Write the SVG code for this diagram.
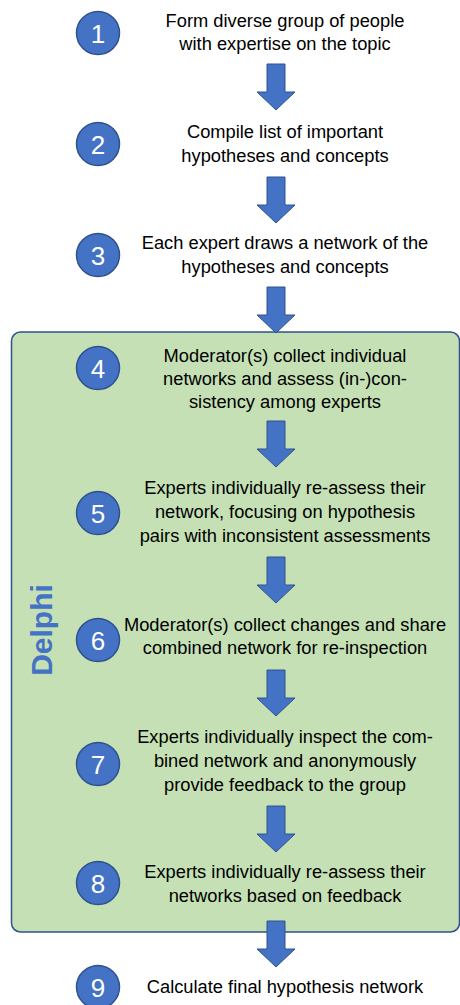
<svg xmlns="http://www.w3.org/2000/svg" width="460" height="1005" viewBox="0 0 460 1005">
<defs>
<style>
.t{font-family:"Liberation Sans",Arial,sans-serif;font-size:18.3px;fill:#000;text-anchor:middle}
.n{font-family:"Liberation Sans",Arial,sans-serif;font-size:26px;fill:#fff;text-anchor:middle}
.c{fill:#4472C4;stroke:#2F528F;stroke-width:1.5}
.a{fill:#4472C4;stroke:#2F528F;stroke-width:1}
</style>
<path id="arr" d="M-9,0 H9 V28 H19 L0,46 L-19,28 H-9 Z"/>
</defs>
<rect width="460" height="1005" fill="#fff"/>
<g id="delphi">
<rect x="11.5" y="332" width="448" height="600" rx="9" fill="#C5E0B4" stroke="#2F528F" stroke-width="1.5"/>
<text transform="translate(52,630) rotate(-90)" font-family="Liberation Sans,Arial,sans-serif" font-weight="bold" font-size="30" fill="#4472C4" text-anchor="middle">Delphi</text>
</g>
<g id="connectors">
<use href="#arr" class="a" x="276" y="64"/>
<use href="#arr" class="a" x="276" y="177"/>
<use href="#arr" class="a" x="276" y="287"/>
<use href="#arr" class="a" x="276" y="421"/>
<use href="#arr" class="a" x="276" y="557"/>
<use href="#arr" class="a" x="276" y="670"/>
<use href="#arr" class="a" x="276" y="806"/>
<use href="#arr" class="a" x="276" y="921"/>
</g>
<g id="n1"><circle class="c" cx="98" cy="33" r="21.5"/><text class="n" x="98" y="42.5">1</text>
<text class="t" x="285" y="27">Form diverse group of people</text><text class="t" x="285" y="50">with expertise on the topic</text></g>
<g id="n2"><circle class="c" cx="98" cy="144" r="21.5"/><text class="n" x="98" y="153.5">2</text>
<text class="t" x="285" y="138">Compile list of important</text><text class="t" x="285" y="162">hypotheses and concepts</text></g>
<g id="n3"><circle class="c" cx="98" cy="255" r="21.5"/><text class="n" x="98" y="264.5">3</text>
<text class="t" x="285" y="249">Each expert draws a network of the</text><text class="t" x="285" y="273">hypotheses and concepts</text></g>
<g id="n4"><circle class="c" cx="98" cy="368" r="21.5"/><text class="n" x="98" y="377.5">4</text>
<text class="t" x="285" y="362">Moderator(s) collect individual</text><text class="t" x="285" y="385">networks and assess (in-)con-</text><text class="t" x="285" y="408">sistency among experts</text></g>
<g id="n5"><circle class="c" cx="98" cy="513" r="21.5"/><text class="n" x="98" y="522.5">5</text>
<text class="t" x="285" y="494">Experts individually re-assess their</text><text class="t" x="285" y="518">network, focusing on hypothesis</text><text class="t" x="285" y="542">pairs with inconsistent assessments</text></g>
<g id="n6"><circle class="c" cx="98" cy="640" r="21.5"/><text class="n" x="98" y="649.5">6</text>
<text class="t" x="285" y="631">Moderator(s) collect changes and share</text><text class="t" x="285" y="654">combined network for re-inspection</text></g>
<g id="n7"><circle class="c" cx="98" cy="764" r="21.5"/><text class="n" x="98" y="773.5">7</text>
<text class="t" x="285" y="743">Experts individually inspect the com-</text><text class="t" x="285" y="767">bined network and anonymously</text><text class="t" x="285" y="791">provide feedback to the group</text></g>
<g id="n8"><circle class="c" cx="98" cy="883" r="21.5"/><text class="n" x="98" y="892.5">8</text>
<text class="t" x="285" y="878">Experts individually re-assess their</text><text class="t" x="285" y="902">networks based on feedback</text></g>
<g id="n9"><circle class="c" cx="98" cy="987" r="21.5"/><text class="n" x="98" y="996.5">9</text>
<text class="t" x="285" y="993">Calculate final hypothesis network</text></g>
</svg>
